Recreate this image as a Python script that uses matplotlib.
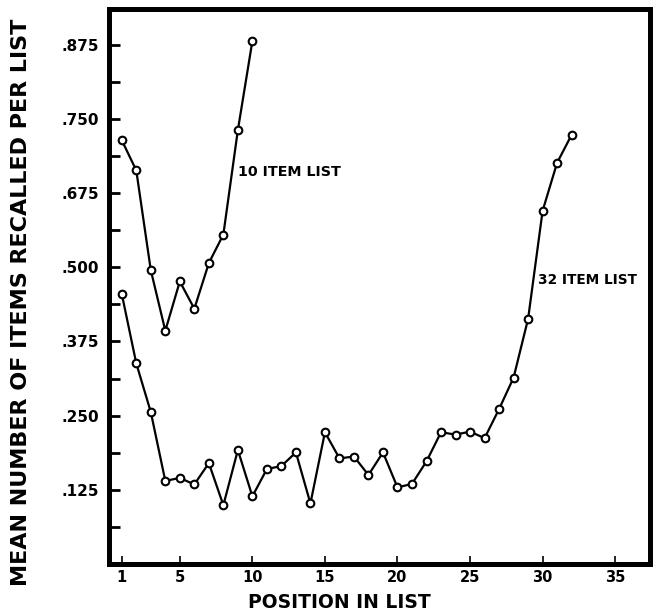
import matplotlib
matplotlib.use("Agg")
import matplotlib.pyplot as plt

# ---- data ----
pos_10 = list(range(1, 11))
recall_10 = [0.714, 0.663, 0.495, 0.393, 0.476, 0.430, 0.507, 0.555, 0.731, 0.881]

pos_32 = list(range(1, 33))
recall_32 = [0.455, 0.338, 0.256, 0.140, 0.145, 0.134, 0.170, 0.099, 0.192, 0.114,
             0.160, 0.165, 0.188, 0.102, 0.222, 0.178, 0.181, 0.150, 0.188, 0.129,
             0.135, 0.173, 0.222, 0.218, 0.223, 0.212, 0.261, 0.314, 0.413, 0.595,
             0.676, 0.723]

y_major = [0.125, 0.250, 0.375, 0.500, 0.625, 0.750, 0.875]
y_labels = [".125", ".250", ".375", ".500", ".675", ".750", ".875"]
y_minor = [0.0625, 0.1875, 0.3125, 0.4375, 0.5625, 0.6875, 0.8125]
x_ticks = [1, 5, 10, 15, 20, 25, 30, 35]
x_labels = ["1", "5", "10", "15", "20", "25", "30", "35"]

label_10 = "10 ITEM LIST"
label_32 = "32 ITEM LIST"
xlabel = "POSITION IN LIST"
ylabel = "MEAN NUMBER OF ITEMS RECALLED PER LIST"

plt.rcParams['font.family'] = ['DejaVu Sans']
plt.rcParams['font.weight'] = 'bold'

fig = plt.figure(figsize=(6.56, 6.13), dpi=100)
ax = fig.add_axes([109/656, 1 - 564/613, (650-109)/656, (564-9)/613])

style = dict(color='black', lw=1.6, marker='o', markersize=5.5,
             markerfacecolor='white', markeredgecolor='black', markeredgewidth=1.5)
ax.plot(pos_10, recall_10, **style)
ax.plot(pos_32, recall_32, **style)

ax.set_xlim(0.12, 37.4)
ax.set_ylim(0.0, 0.935)

ax.set_yticks(y_major)
ax.set_yticklabels(y_labels, fontsize=11, fontweight='bold')
ax.set_yticks(y_minor, minor=True)
ax.set_xticks(x_ticks)
ax.set_xticklabels(x_labels, fontsize=10.5, fontweight='bold')

ax.tick_params(axis='y', which='both', direction='in', length=8, width=2, pad=7)
ax.tick_params(axis='x', which='major', direction='in', length=6, width=1.2, pad=4)

for s in ax.spines.values():
    s.set_linewidth(3.6)

ax.text(9.0, 0.660, label_10, fontsize=10.3, fontweight='bold', va='center', ha='left')
ax.text(29.7, 0.478, label_32, fontsize=9.8, fontweight='bold', va='center', ha='left')

fig.text(339/656, 1 - 602/613, xlabel, fontsize=13.5, fontweight='bold', ha='center', va='center')
fig.text(21/656, 1 - 302/613, ylabel, fontsize=16, fontweight='bold', ha='center', va='center',
         rotation=90)

fig.savefig("out.png", dpi=100)
